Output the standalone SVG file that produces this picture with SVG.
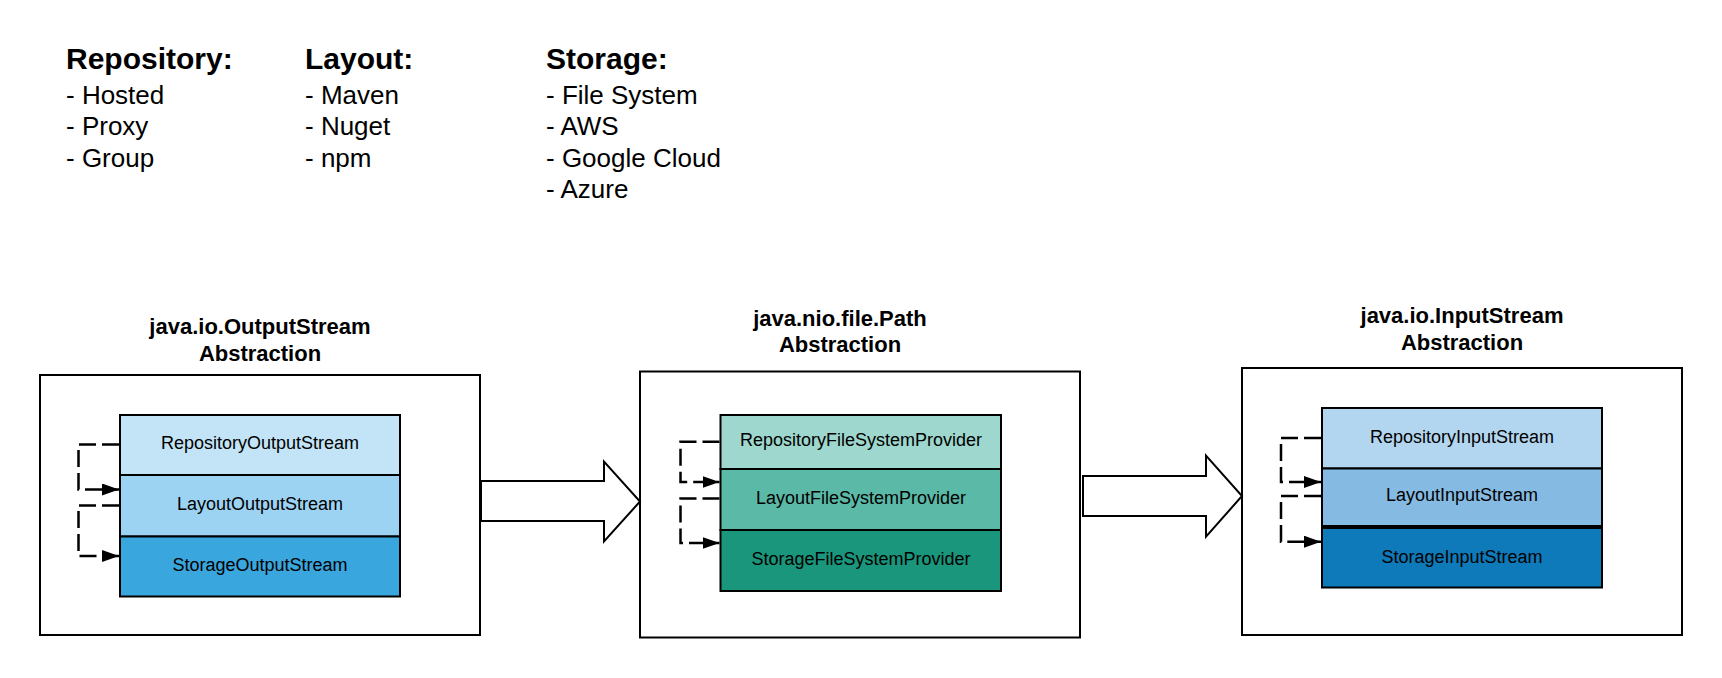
<svg xmlns="http://www.w3.org/2000/svg" width="1722" height="678" viewBox="0 0 1722 678">
<style>
text{font-family:"Liberation Sans",Arial,sans-serif;fill:#000}
.h{font-size:30px;font-weight:bold}
.li{font-size:26px}
.t{font-size:22px;font-weight:bold;text-anchor:middle}
.l{font-size:18px;text-anchor:middle}
.box{fill:#fff;stroke:#000;stroke-width:2}
.row{stroke:#000;stroke-width:2}
.dash{fill:none;stroke:#000;stroke-width:2.5;stroke-dasharray:17 6}
.blk{fill:#fff;stroke:#000;stroke-width:2;stroke-linejoin:miter}
</style>
<defs>
<marker id="ah" viewBox="0 0 17 12" refX="17" refY="6" markerWidth="17" markerHeight="12" markerUnits="userSpaceOnUse" orient="auto">
<path d="M0,0 L17,6 L0,12 z" fill="#000"/>
</marker>
</defs>
<rect width="1722" height="678" fill="#fff"/>

<g id="legend-repository">
<text class="h" x="66" y="69">Repository:</text>
<text class="li" x="66" y="103.5">- Hosted</text>
<text class="li" x="66" y="135">- Proxy</text>
<text class="li" x="66" y="166.7">- Group</text>
</g>
<g id="legend-layout">
<text class="h" x="305" y="69">Layout:</text>
<text class="li" x="305" y="103.5">- Maven</text>
<text class="li" x="305" y="135">- Nuget</text>
<text class="li" x="305" y="166.7">- npm</text>
</g>
<g id="legend-storage">
<text class="h" x="546" y="69">Storage:</text>
<text class="li" x="546" y="103.5">- File System</text>
<text class="li" x="546" y="135">- AWS</text>
<text class="li" x="546" y="166.7">- Google Cloud</text>
<text class="li" x="546" y="198.4">- Azure</text>
</g>

<g id="output-abstraction">
<text class="t" x="260" y="334">java.io.OutputStream</text>
<text class="t" x="260" y="360.7">Abstraction</text>
<rect class="box" x="40" y="375" width="440" height="260"/>
</g>
<g id="path-abstraction">
<text class="t" x="840" y="325.7">java.nio.file.Path</text>
<text class="t" x="840" y="352.3">Abstraction</text>
<rect class="box" x="640" y="371.5" width="440" height="266"/>
</g>
<g id="input-abstraction">
<text class="t" x="1462" y="323.3">java.io.InputStream</text>
<text class="t" x="1462" y="350">Abstraction</text>
<rect class="box" x="1242" y="368" width="440" height="267"/>
</g>

<g id="repository-output-stream">
<rect class="row" x="120" y="415" width="280" height="60" fill="#C2E4F6"/>
<text class="l" x="260" y="449">RepositoryOutputStream</text>
</g>
<g id="layout-output-stream">
<rect class="row" x="120" y="475" width="280" height="61.5" fill="#9DD3F2"/>
<text class="l" x="260" y="510">LayoutOutputStream</text>
</g>
<g id="storage-output-stream">
<rect class="row" x="120" y="536.5" width="280" height="60" fill="#3AA6DE"/>
<text class="l" x="260" y="571">StorageOutputStream</text>
</g>

<g id="repository-fs-provider">
<rect class="row" x="720.5" y="415" width="280.5" height="54" fill="#9DD7CD"/>
<text class="l" x="861" y="446">RepositoryFileSystemProvider</text>
</g>
<g id="layout-fs-provider">
<rect class="row" x="720.5" y="469" width="280.5" height="61" fill="#5BB9A7"/>
<text class="l" x="861" y="504">LayoutFileSystemProvider</text>
</g>
<g id="storage-fs-provider">
<rect class="row" x="720.5" y="530" width="280.5" height="61" fill="#1A967C"/>
<text class="l" x="861" y="565">StorageFileSystemProvider</text>
</g>

<g id="repository-input-stream">
<rect class="row" x="1322" y="408" width="280" height="60.5" fill="#B3D6F0"/>
<text class="l" x="1462" y="443">RepositoryInputStream</text>
</g>
<g id="layout-input-stream">
<rect class="row" x="1322" y="468.5" width="280" height="57.5" fill="#85BAE3"/>
<text class="l" x="1462" y="501">LayoutInputStream</text>
</g>
<g id="storage-input-stream">
<rect class="row" x="1322" y="528" width="280" height="59.5" fill="#0E7AB9"/>
<text class="l" x="1462" y="562.5">StorageInputStream</text>
</g>

<g id="connectors">
<path class="dash" d="M119,444.5 H78.5 V489.5 H119" marker-end="url(#ah)"/>
<path class="dash" d="M119,505.5 H78.5 V556 H119" marker-end="url(#ah)"/>
<path class="dash" d="M719.5,441.7 H680.5 V482 H719.5" marker-end="url(#ah)"/>
<path class="dash" d="M719.5,498.5 H680.5 V543 H719.5" marker-end="url(#ah)"/>
<path class="dash" d="M1321,438 H1281 V482 H1321" marker-end="url(#ah)"/>
<path class="dash" d="M1321,496 H1281 V541.7 H1321" marker-end="url(#ah)"/>
<polygon class="blk" points="481,481 604,481 604,461.5 640,501.5 604,541.5 604,521 481,521"/>
<polygon class="blk" points="1083,476 1206,476 1206,455.7 1242,496 1206,536.7 1206,516 1083,516"/>
</g>
</svg>
